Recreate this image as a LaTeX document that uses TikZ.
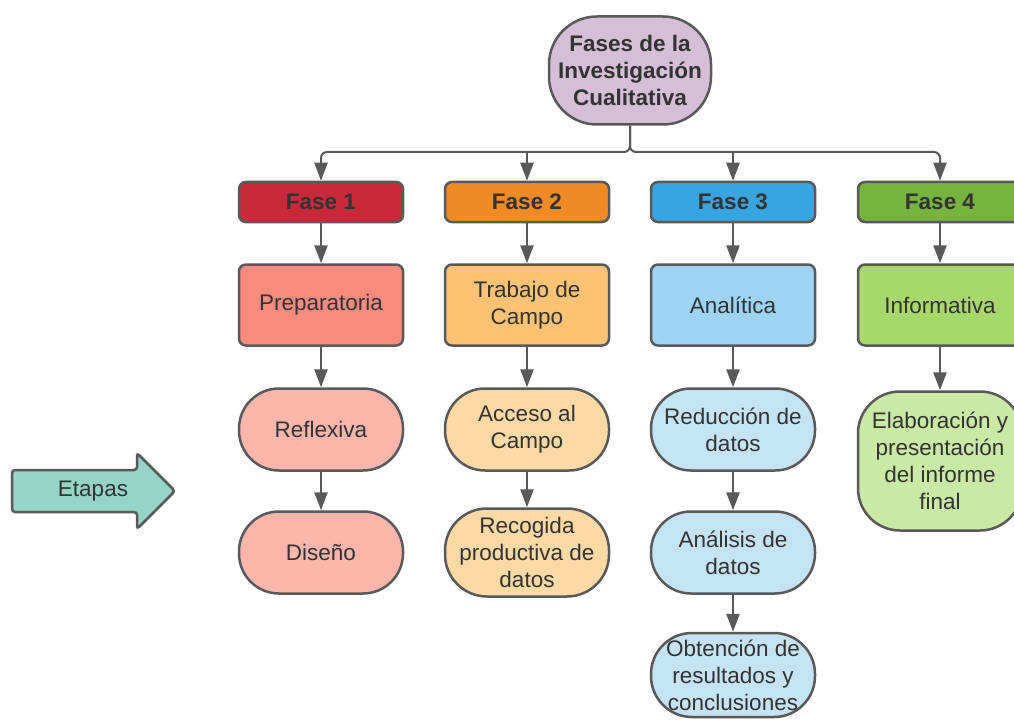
\documentclass[tikz,border=0pt]{standalone}
\usepackage{fontspec}
\setmainfont{Liberation Sans}
\usetikzlibrary{arrows.meta}

\definecolor{edgegray}{HTML}{595959}
\definecolor{txtgray}{HTML}{333333}
\definecolor{titlefill}{HTML}{D6BED7}
\definecolor{etapasfill}{HTML}{95D4C6}
\definecolor{redA}{HTML}{C92A3B}
\definecolor{redB}{HTML}{F98B7E}
\definecolor{redC}{HTML}{FBB6AC}
\definecolor{orangeA}{HTML}{EF8B24}
\definecolor{orangeB}{HTML}{FDC273}
\definecolor{orangeC}{HTML}{FDD9A6}
\definecolor{blueA}{HTML}{39A5E0}
\definecolor{blueB}{HTML}{9ED3F3}
\definecolor{blueC}{HTML}{C4E4F5}
\definecolor{greenA}{HTML}{76B33F}
\definecolor{greenB}{HTML}{A7D86B}
\definecolor{greenC}{HTML}{C9E9A7}

\tikzset{
  box/.style={draw=edgegray, line width=2.5pt, text=txtgray, align=center,
    inner sep=0pt, font=\fontsize{22.5}{27}\selectfont},
  fase/.style={box, rounded corners=7pt, minimum width=164pt, minimum height=40pt,
    font=\fontsize{22.5}{27}\selectfont\bfseries},
  etapa/.style={box, rounded corners=7pt, minimum width=164pt, minimum height=81pt},
  paso/.style={box, rounded corners=40pt, minimum width=164pt, minimum height=82pt},
  conn/.style={draw=edgegray, line width=2.5pt, -{Triangle[length=18pt,width=13pt]}},
  bus/.style={conn, line width=2pt, rounded corners=6pt}
}

\begin{document}
\begin{tikzpicture}[x=1pt, y=-1pt]
\clip (0,0) rectangle (1014,722);

% title
\node[box, fill=titlefill, rounded corners=48pt, minimum width=162pt, minimum height=108pt,
  font=\fontsize{22.5}{27}\selectfont\bfseries] (title) at (630,70.5)
  {Fases de la\\Investigación\\Cualitativa};

% phases
\node[fase, fill=redA]    (f1) at (321,202) {Fase 1};
\node[fase, fill=orangeA] (f2) at (527,202) {Fase 2};
\node[fase, fill=blueA]   (f3) at (733,202) {Fase 3};
\node[fase, fill=greenA]  (f4) at (940,202) {Fase 4};

% second row
\node[etapa, fill=redB]    (p1) at (321,305) {Preparatoria};
\node[etapa, fill=orangeB] (p2) at (527,305) {Trabajo de\\Campo};
\node[etapa, fill=blueB]   (p3) at (733,305) {Analítica};
\node[etapa, fill=greenB]  (p4) at (940,305) {Informativa};

% stages
\node[paso, fill=redC]    (r1) at (321,429.5) {Reflexiva};
\node[paso, fill=orangeC] (r2) at (527,429.5) {Acceso al\\Campo};
\node[paso, fill=blueC]   (r3) at (733,429.5) {Reducción de\\datos};
\node[paso, fill=greenC, minimum height=139pt, rounded corners=42pt] (r4) at (940,461)
  {Elaboración y\\presentación\\del informe\\final};

\node[paso, fill=redC]    (d1) at (321,552.5) {Diseño};
\node[paso, fill=orangeC, minimum height=88pt, rounded corners=42pt] (d2) at (527,552.5)
  {Recogida\\productiva de\\datos};
\node[paso, fill=blueC]   (d3) at (733,552.5) {Análisis de\\datos};

\node[paso, fill=blueC, minimum height=84pt, rounded corners=41pt] (o3) at (733,675)
  {Obtención de\\resultados y\\conclusiones};

% side arrow
\draw[draw=edgegray, line width=2.5pt, fill=etapasfill, rounded corners=3pt]
  (12,470) -- (137,470) -- (137,453) -- (175,491) -- (137,529) -- (137,512) -- (12,512) -- cycle;
\node[text=txtgray, font=\fontsize{22.5}{27}\selectfont] (etapas) at (93,491) {Etapas};

% connectors
\coordinate (bus) at (630,152);
\draw[bus] (title.south) |- (f1.north |- bus) -- (f1.north);
\draw[bus] (title.south) |- (f4.north |- bus) -- (f4.north);
\draw[conn] (f2.north |- bus) -- (f2.north);
\draw[conn] (f3.north |- bus) -- (f3.north);

\draw[conn] (f1) -- (p1);
\draw[conn] (p1) -- (r1);
\draw[conn] (r1) -- (d1);
\draw[conn] (f2) -- (p2);
\draw[conn] (p2) -- (r2);
\draw[conn] (r2) -- (d2);
\draw[conn] (f3) -- (p3);
\draw[conn] (p3) -- (r3);
\draw[conn] (r3) -- (d3);
\draw[conn] (d3) -- (o3);
\draw[conn] (f4) -- (p4);
\draw[conn] (p4) -- (r4);
\end{tikzpicture}
\end{document}
